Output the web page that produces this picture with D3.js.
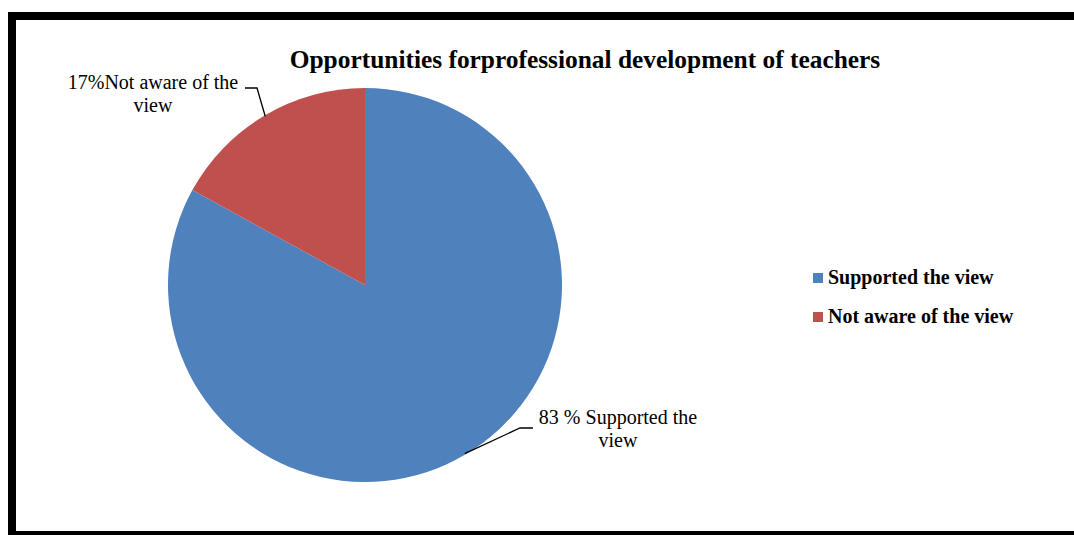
<!DOCTYPE html>
<html><head><meta charset="utf-8">
<script src="https://cdn.jsdelivr.net/npm/d3@7"></script>
<style>body{margin:0;background:#fff}svg{display:block}</style>
</head><body>
<script>
const categories = ["Supported the view", "Not aware of the view"];
const values = [83, 17];
const labelLines = [["83 % Supported the", "view"], ["17%Not aware of the", "view"]];
const colors = ["#4F81BD", "#C0504D"];
const title = "Opportunities forprofessional development of teachers";

const W = 1074, H = 535;
const svg = d3.select("body").append("svg").attr("width", W).attr("height", H);

// frame
svg.append("rect").attr("x", 0).attr("y", 0).attr("width", W).attr("height", H).attr("fill", "#fff");
svg.append("rect").attr("x", 8).attr("y", 12).attr("width", W - 8).attr("height", 8).attr("fill", "#000");
svg.append("rect").attr("x", 8).attr("y", 12).attr("width", 8).attr("height", H - 12).attr("fill", "#000");
svg.append("rect").attr("x", 8).attr("y", 531).attr("width", W - 8).attr("height", 4).attr("fill", "#000");

const font = "Liberation Serif, Times New Roman, serif";
svg.append("text").attr("x", 585).attr("y", 68).attr("text-anchor", "middle")
  .attr("font-family", font).attr("font-weight", "bold")
  .attr("font-size", 25.4).attr("fill", "#000").text(title);

const cx = 365, cy = 285, r = 197;
const data = categories.map((c, i) => ({c, v: values[i], i}));
const pie = d3.pie().value(d => d.v).sort(null);
const arcs = pie(data);
const arc = d3.arc().innerRadius(0).outerRadius(r);
const g = svg.append("g").attr("transform", `translate(${cx},${cy})`);
g.selectAll("path").data(arcs).join("path").attr("d", arc).attr("fill", d => colors[d.data.i]);

// leader lines and labels
const labelPos = [
  {elbow: [520, 428], end: [533, 428], tx: 618, ty: 424},
  {elbow: [257, 88], end: [245, 88], tx: 153, ty: 89}
];
arcs.forEach((a, k) => {
  const lp = labelPos[k];
  const ang = (a.startAngle + a.endAngle) / 2;
  const px = cx + (r - 1) * Math.sin(ang), py = cy - (r - 1) * Math.cos(ang);
  svg.append("polyline").attr("points", [[px, py], lp.elbow, lp.end].map(p => p.join(",")).join(" "))
    .attr("fill", "none").attr("stroke", "#000").attr("stroke-width", 1.3);
  const t = svg.append("text").attr("text-anchor", "middle").attr("font-family", font)
    .attr("font-size", 20).attr("fill", "#000");
  labelLines[k].forEach((ln, j) => t.append("tspan").attr("x", lp.tx).attr("y", lp.ty + j * 23).text(ln));
});

// legend
const lg = svg.append("g");
categories.forEach((c, i) => {
  const y = 278 + i * 39;
  lg.append("rect").attr("x", 813).attr("y", y - 5).attr("width", 10).attr("height", 10).attr("fill", colors[i]);
  lg.append("text").attr("x", 828).attr("y", y + 6).attr("font-family", font).attr("font-weight", "bold")
    .attr("font-size", 20).attr("fill", "#000").text(c);
});
</script>
</body></html>
